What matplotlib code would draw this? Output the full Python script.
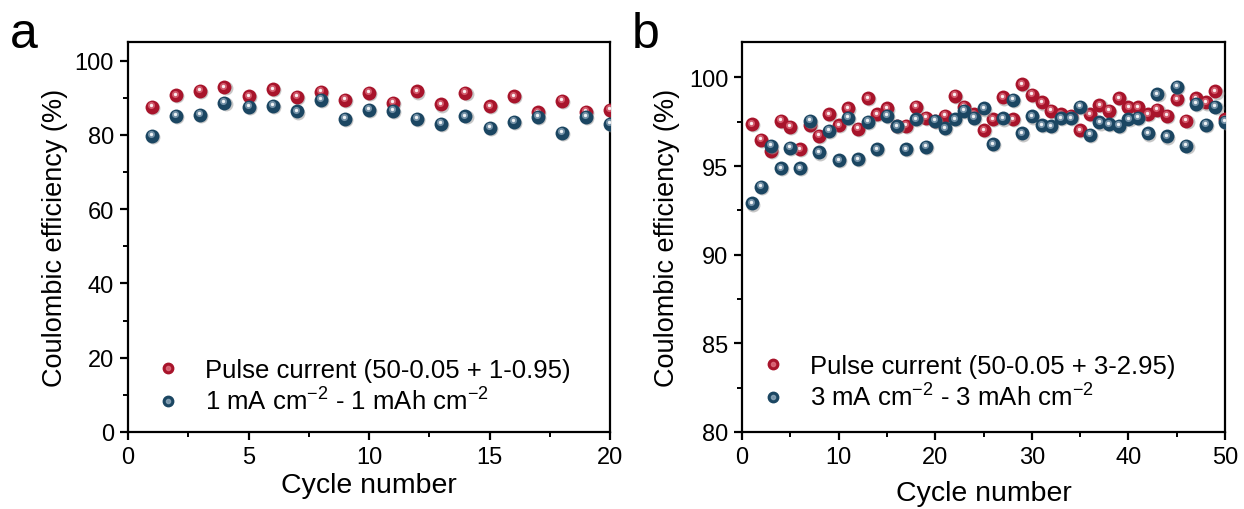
import matplotlib
matplotlib.use("Agg")
import matplotlib.pyplot as plt
import matplotlib.transforms as mtransforms
from matplotlib.lines import Line2D
from matplotlib.legend_handler import HandlerTuple
from matplotlib.ticker import MultipleLocator

plt.rcParams['font.family'] = ['Liberation Sans', 'DejaVu Sans']
plt.rcParams['mathtext.fontset'] = 'custom'
plt.rcParams['mathtext.rm'] = 'Liberation Sans'
plt.rcParams['mathtext.it'] = 'Liberation Sans'

# ---------------- data ----------------
cycles_a = list(range(1, 21))
pulse_a = [87.5, 90.7, 91.8, 92.8, 90.4, 92.3, 90.3, 91.6, 89.5, 91.4,
           88.7, 91.7, 88.2, 91.3, 87.7, 90.4, 86.1, 89.2, 86.2, 86.8]
const_a = [79.7, 85.2, 85.4, 88.6, 87.5, 87.9, 86.3, 89.5, 84.4, 86.8,
           86.5, 84.4, 83.0, 85.0, 81.9, 83.5, 84.8, 80.6, 84.8, 83.0]

cycles_b = list(range(1, 51))
pulse_b = [97.37, 96.47, 95.86, 97.56, 97.22, 95.96, 97.31, 96.71, 97.93, 97.31,
           98.25, 97.12, 98.83, 97.93, 98.25, 97.27, 97.27, 98.35, 97.74, 97.56,
           97.84, 98.97, 98.35, 97.93, 97.03, 97.65, 98.87, 97.65, 99.62, 99.02,
           98.59, 98.12, 97.93, 97.84, 97.03, 97.93, 98.44, 98.12, 98.82, 98.31,
           98.31, 97.93, 98.18, 97.84, 98.78, 97.56, 98.82, 98.59, 99.21, 97.65]
const_b = [92.89, 93.83, 96.15, 94.89, 96.02, 94.89, 97.56, 95.77, 96.99, 95.34,
           97.74, 95.39, 97.50, 95.96, 97.84, 97.24, 95.96, 97.65, 96.09, 97.56,
           97.14, 97.65, 98.12, 97.74, 98.25, 96.24, 97.69, 98.74, 96.84, 97.80,
           97.31, 97.24, 97.71, 97.71, 98.35, 96.77, 97.46, 97.37, 97.27, 97.65,
           97.74, 96.84, 99.06, 96.67, 99.47, 96.15, 98.53, 97.33, 98.36, 97.50]

labels_a = ['Pulse current (50-0.05 + 1-0.95)', r'1 mA cm$^{\mathregular{-2}}$ - 1 mAh cm$^{\mathregular{-2}}$']
labels_b = ['Pulse current (50-0.05 + 3-2.95)', r'3 mA cm$^{\mathregular{-2}}$ - 3 mAh cm$^{\mathregular{-2}}$']

RED = '#A8142B'
RED_HI = '#E07080'
BLUE = '#1B4662'
BLUE_HI = '#8FA9BC'

fig = plt.figure(figsize=(12.44, 5.10), dpi=100)
ax_a = fig.add_axes([0.1029, 0.151, 0.3875, 0.7647])
ax_b = fig.add_axes([0.5965, 0.151, 0.3883, 0.7647])


def spheres(ax, x, y, base, hi, z):
    s = 100
    shadow = mtransforms.offset_copy(ax.transData, fig=fig, x=0.8, y=-0.8, units='points')
    ax.scatter(x, y, s=s, color='#9a9a9a', alpha=0.55, linewidths=0, transform=shadow, zorder=z)
    ax.scatter(x, y, s=s, color=base, linewidths=0, zorder=z + 0.1)
    off = mtransforms.offset_copy(ax.transData, fig=fig, x=-0.7, y=1.1, units='points')
    ax.scatter(x, y, s=26, color=hi, alpha=0.75, linewidths=0, transform=off, zorder=z + 0.2)
    ax.scatter(x, y, s=6, color='white', alpha=0.9, linewidths=0, transform=off, zorder=z + 0.3)


def style(ax):
    for sp in ax.spines.values():
        sp.set_linewidth(1.6)
    ax.tick_params(which='major', direction='out', length=6, width=1.6, labelsize=17,
                   pad=4, colors='black')
    ax.tick_params(which='minor', direction='out', length=3.5, width=1.4)


# panel a
spheres(ax_a, cycles_a, pulse_a, RED, RED_HI, 3)
spheres(ax_a, cycles_a, const_a, BLUE, BLUE_HI, 4)
ax_a.set_xlim(0, 20)
ax_a.set_ylim(0, 105)
ax_a.xaxis.set_major_locator(MultipleLocator(5))
ax_a.xaxis.set_minor_locator(MultipleLocator(2.5))
ax_a.yaxis.set_major_locator(MultipleLocator(20))
ax_a.yaxis.set_minor_locator(MultipleLocator(10))
style(ax_a)
ax_a.set_xlabel('Cycle number', fontsize=20.5, labelpad=3)
ax_a.set_ylabel('Coulombic efficiency (%)', fontsize=19.5, labelpad=5)

# panel b
spheres(ax_b, cycles_b, pulse_b, RED, RED_HI, 3)
spheres(ax_b, cycles_b, const_b, BLUE, BLUE_HI, 4)
ax_b.set_xlim(0, 50)
ax_b.set_ylim(80, 102)
ax_b.xaxis.set_major_locator(MultipleLocator(10))
ax_b.xaxis.set_minor_locator(MultipleLocator(5))
ax_b.yaxis.set_major_locator(MultipleLocator(5))
ax_b.yaxis.set_minor_locator(MultipleLocator(2.5))
style(ax_b)
ax_b.set_xlabel('Cycle number', fontsize=20.5, labelpad=9)
ax_b.set_ylabel('Coulombic efficiency (%)', fontsize=19.5, labelpad=6)


def legend(ax, labels, anchor):
    hr = (Line2D([], [], ls='none', marker='o', ms=7.5, mfc=RED, mec=RED),
          Line2D([], [], ls='none', marker='o', ms=3, mfc=RED_HI, mec=RED_HI, alpha=0.8))
    hb = (Line2D([], [], ls='none', marker='o', ms=7.5, mfc=BLUE, mec=BLUE),
          Line2D([], [], ls='none', marker='o', ms=3, mfc=BLUE_HI, mec=BLUE_HI, alpha=0.8))
    ax.legend([hr, hb], labels, handler_map={tuple: HandlerTuple(ndivide=1, pad=0)},
              loc='lower left', bbox_to_anchor=anchor, frameon=False, fontsize=18.5,
              handlelength=1.2, handletextpad=0.85, labelspacing=0.2, borderaxespad=0)


legend(ax_a, labels_a, (0.03, 0.018))
legend(ax_b, labels_b, (0.01, 0.028))

fig.text(0.008, 0.905, 'a', fontsize=36)
fig.text(0.508, 0.905, 'b', fontsize=36)

fig.savefig('out.png', dpi=100)
